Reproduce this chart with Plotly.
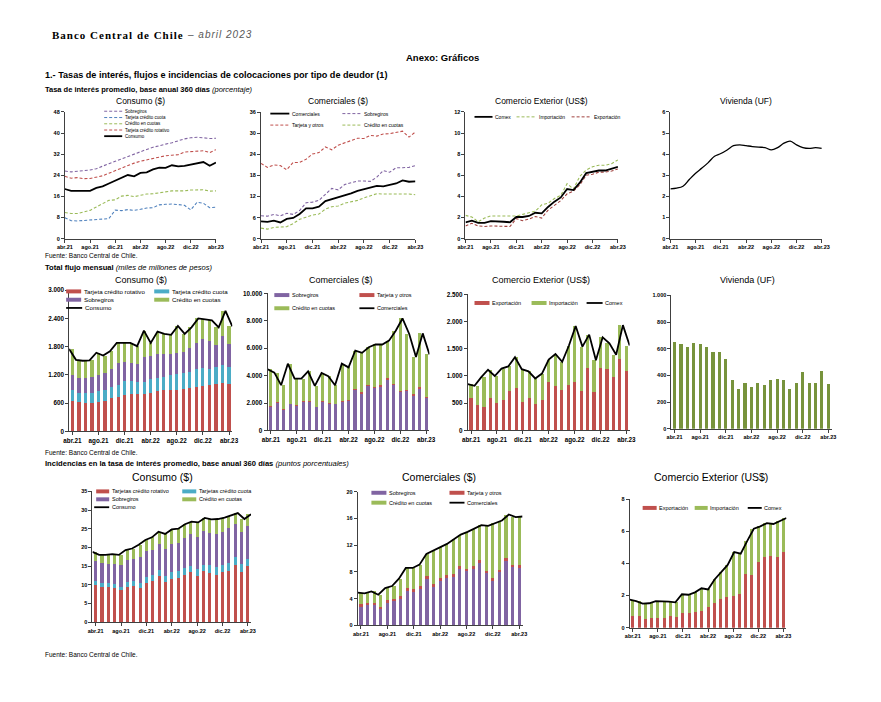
import plotly.graph_objects as go

W, H = 881, 702
# horizontal placement calibration (page pixel -> figure pixel)
XS, XO = 0.981, 8.9

meses = ["abr.21", "may.21", "jun.21", "jul.21", "ago.21", "sep.21", "oct.21", "nov.21", "dic.21",
         "ene.22", "feb.22", "mar.22", "abr.22", "may.22", "jun.22", "jul.22", "ago.22", "sep.22",
         "oct.22", "nov.22", "dic.22", "ene.23", "feb.23", "mar.23", "abr.23"]
etiquetas = meses[::4]

# ---------------- Fila 1: tasas de interés (porcentaje) ----------------
tasa_cons_sobregiros = [25.6, 25.3, 25.5, 25.7, 26.0, 26.5, 27.3, 28.4, 29.3, 30.2, 31.2, 32.2, 33.1, 33.8, 34.6, 35.3, 35.8, 36.3, 37.0, 37.8, 38.2, 38.4, 38.2, 37.9, 38.0]
tasa_cons_tc_cuota = [7.9, 6.8, 6.7, 6.9, 7.2, 7.4, 7.5, 7.6, 10.8, 10.6, 11.0, 10.7, 11.1, 11.6, 11.7, 12.8, 13.0, 13.1, 12.9, 12.6, 10.9, 13.8, 13.4, 11.7, 11.9]
tasa_cons_cuotas = [9.9, 9.5, 9.5, 10.1, 10.7, 12.0, 13.2, 14.5, 14.7, 16.1, 16.4, 15.9, 16.4, 16.9, 17.0, 17.4, 17.6, 18.1, 18.1, 18.1, 18.4, 18.5, 18.5, 18.0, 18.1]
tasa_cons_tc_rot = [23.6, 22.9, 23.1, 22.7, 22.8, 23.2, 23.8, 24.8, 25.8, 26.8, 27.8, 28.6, 29.3, 29.8, 30.5, 31.0, 31.4, 31.6, 31.8, 32.8, 33.0, 33.2, 33.3, 32.6, 33.7]
tasa_cons_total = [18.8, 18.1, 18.1, 18.2, 18.1, 19.2, 19.8, 20.9, 22.0, 22.9, 24.1, 23.6, 24.9, 25.1, 26.2, 26.9, 26.8, 27.8, 27.4, 27.6, 28.0, 28.5, 29.0, 27.6, 28.8]

tasa_com_total = [4.9, 4.8, 5.1, 4.6, 5.6, 5.9, 7.0, 8.6, 8.6, 9.1, 10.7, 11.2, 11.8, 12.2, 12.9, 13.6, 14.0, 14.5, 15.0, 14.9, 15.3, 15.7, 16.6, 16.2, 16.3]
tasa_com_sobregiros = [6.5, 6.4, 6.9, 6.5, 7.2, 6.9, 8.0, 10.2, 10.4, 10.9, 12.6, 14.3, 13.9, 15.4, 15.9, 16.4, 16.4, 16.3, 17.5, 19.4, 18.9, 20.2, 20.2, 20.3, 20.8]
tasa_com_tarjeta = [21.4, 20.3, 21.0, 20.8, 19.6, 21.7, 21.7, 22.6, 24.1, 24.5, 26.1, 25.3, 26.6, 27.3, 28.0, 28.6, 28.5, 29.4, 29.2, 29.8, 29.9, 30.2, 30.6, 28.9, 30.4]
tasa_com_cuotas = [3.0, 2.7, 3.2, 3.3, 3.4, 4.3, 5.5, 6.1, 6.7, 7.0, 8.4, 9.1, 9.3, 10.1, 10.4, 10.9, 11.6, 12.3, 12.8, 12.7, 12.7, 12.8, 12.8, 12.7, 12.5]

tasa_cx_comex = [1.55, 1.7, 1.5, 1.5, 1.65, 1.65, 1.6, 1.55, 2.05, 2.05, 2.15, 2.45, 2.4, 3.0, 3.5, 3.9, 4.7, 4.6, 5.3, 6.2, 6.35, 6.45, 6.45, 6.65, 6.8]
tasa_cx_import = [2.2, 2.05, 1.6, 1.95, 2.15, 2.15, 2.2, 2.15, 2.15, 2.3, 2.45, 2.6, 3.2, 3.35, 3.8, 4.1, 5.2, 4.7, 5.9, 6.5, 6.8, 6.95, 6.95, 7.1, 7.45]
tasa_cx_export = [1.2, 1.45, 1.2, 1.15, 1.2, 1.2, 1.2, 1.15, 1.9, 1.7, 1.85, 2.1, 1.95, 2.7, 3.15, 3.6, 4.25, 4.5, 5.1, 6.0, 6.1, 6.3, 6.3, 6.4, 6.6]

tasa_vivienda = [2.36, 2.39, 2.48, 2.8, 3.1, 3.34, 3.6, 3.9, 4.03, 4.2, 4.4, 4.44, 4.4, 4.36, 4.33, 4.31, 4.2, 4.31, 4.52, 4.62, 4.44, 4.31, 4.27, 4.31, 4.27]

# ---------------- Fila 2: flujo mensual (miles de millones) ----------------
flujo_cons_rot = [650, 615, 610, 610, 630, 650, 700, 720, 770, 790, 790, 800, 810, 860, 870, 880, 880, 900, 920, 950, 970, 990, 1010, 1030, 1010]
flujo_cons_cuota = [230, 205, 200, 210, 220, 230, 240, 270, 290, 290, 260, 240, 310, 280, 280, 320, 340, 330, 340, 380, 380, 340, 360, 390, 350]
flujo_cons_sobregiros = [320, 320, 320, 330, 350, 360, 390, 470, 420, 380, 390, 530, 480, 500, 490, 450, 440, 460, 510, 550, 610, 590, 460, 600, 500]
flujo_cons_cuotas = [550, 380, 370, 360, 470, 370, 370, 420, 400, 420, 370, 570, 280, 480, 430, 400, 580, 380, 440, 520, 420, 440, 380, 540, 370]
flujo_cons_total = [1750, 1520, 1500, 1510, 1670, 1610, 1700, 1880, 1880, 1880, 1810, 2140, 1880, 2120, 2070, 2050, 2240, 2070, 2210, 2400, 2380, 2360, 2210, 2560, 2230]

flujo_com_sobregiros = [1700, 2000, 1500, 1900, 1800, 2050, 2100, 1680, 2050, 1950, 1900, 2100, 2150, 2950, 2680, 3250, 3100, 3200, 3700, 3300, 2800, 2900, 2550, 3050, 2350]
flujo_com_tarjeta = [60, 50, 50, 50, 60, 60, 70, 50, 60, 60, 60, 80, 80, 100, 90, 100, 100, 100, 100, 90, 80, 80, 80, 100, 80]
flujo_com_cuotas = [2700, 2170, 1750, 2920, 1920, 1670, 2140, 1520, 2080, 1940, 1340, 2690, 2370, 2780, 2890, 2720, 3070, 2970, 2750, 3890, 5290, 4060, 2720, 3930, 3110]
flujo_com_total = [4460, 4220, 3300, 4870, 3780, 3780, 4310, 3250, 4190, 3950, 3300, 4870, 4600, 5830, 5660, 6070, 6270, 6270, 6550, 7280, 8170, 7040, 5350, 7080, 5540]

flujo_cx_export = [590, 460, 430, 590, 510, 560, 720, 780, 520, 590, 480, 550, 890, 810, 750, 830, 890, 720, 1140, 700, 1150, 1120, 990, 1320, 1100]
flujo_cx_import = [260, 360, 550, 525, 490, 575, 455, 565, 605, 495, 475, 495, 410, 595, 510, 730, 1030, 820, 620, 590, 560, 480, 400, 615, 460]
flujo_cx_comex = [850, 820, 980, 1115, 1000, 1135, 1175, 1345, 1125, 1085, 955, 1045, 1300, 1405, 1260, 1560, 1920, 1540, 1760, 1290, 1710, 1600, 1390, 1935, 1560]

flujo_vivienda = [650, 635, 615, 645, 635, 615, 575, 575, 520, 365, 298, 340, 312, 345, 328, 362, 375, 362, 298, 345, 422, 340, 340, 432, 335]

# ---------------- Fila 3: incidencias (puntos porcentuales) ----------------
inc_cons_rot = [9.8, 9.4, 9.3, 9.0, 8.5, 9.5, 9.7, 9.2, 10.5, 10.9, 12.4, 10.8, 11.6, 11.8, 12.7, 13.4, 12.4, 13.6, 13.1, 12.6, 13.3, 13.6, 15.2, 13.3, 15.0]
inc_cons_cuota = [1.2, 1.1, 1.2, 1.3, 0.9, 1.2, 1.3, 1.3, 1.7, 1.7, 1.5, 1.6, 1.8, 1.8, 1.7, 1.7, 1.8, 1.8, 2.3, 2.1, 1.9, 2.1, 2.1, 2.2, 1.8]
inc_cons_sobregiros = [5.3, 5.3, 5.0, 5.3, 5.8, 5.8, 5.9, 7.0, 6.8, 6.7, 6.9, 7.1, 7.6, 7.7, 8.2, 8.4, 8.5, 8.9, 8.4, 8.9, 8.8, 9.4, 8.9, 8.5, 8.8]
inc_cons_cuotas = [2.5, 2.2, 2.5, 2.6, 2.8, 2.8, 2.8, 3.2, 3.0, 3.4, 3.4, 4.1, 3.8, 3.7, 3.6, 3.4, 4.0, 3.6, 3.7, 4.0, 4.0, 3.4, 3.0, 3.6, 3.3]
inc_cons_total = [18.8, 18.0, 18.0, 18.2, 18.0, 19.3, 19.7, 20.7, 22.0, 22.7, 24.2, 23.6, 24.8, 25.0, 26.2, 26.9, 26.7, 27.9, 27.5, 27.6, 28.0, 28.5, 29.2, 27.6, 28.9]

inc_com_sobregiros = [2.8, 3.0, 3.0, 2.5, 3.4, 3.6, 4.0, 5.2, 5.0, 5.4, 6.9, 5.8, 6.7, 7.1, 7.3, 8.4, 8.1, 8.5, 9.3, 7.8, 6.7, 8.0, 9.6, 8.7, 8.6]
inc_com_tarjeta = [0.4, 0.35, 0.4, 0.3, 0.35, 0.35, 0.4, 0.45, 0.4, 0.45, 0.55, 0.4, 0.4, 0.45, 0.45, 0.45, 0.4, 0.4, 0.45, 0.4, 0.35, 0.35, 0.45, 0.4, 0.45]
inc_com_cuotas = [1.7, 1.45, 1.7, 1.8, 1.85, 1.95, 2.6, 2.95, 3.2, 3.25, 3.25, 5.0, 4.7, 4.65, 5.15, 4.75, 5.5, 5.6, 5.25, 6.7, 8.25, 7.35, 6.55, 7.1, 7.25]
inc_com_total = [4.9, 4.8, 5.1, 4.6, 5.6, 5.9, 7.0, 8.6, 8.6, 9.1, 10.7, 11.2, 11.8, 12.2, 12.9, 13.6, 14.0, 14.5, 15.0, 14.9, 15.3, 15.7, 16.6, 16.2, 16.3]

inc_cx_export = [0.75, 0.75, 0.55, 0.6, 0.6, 0.6, 0.75, 0.65, 0.9, 0.9, 0.95, 1.05, 1.3, 1.55, 1.8, 1.9, 1.95, 2.1, 3.35, 3.25, 4.1, 4.4, 4.45, 4.4, 4.7]
inc_cx_import = [1.0, 0.9, 0.95, 0.92, 1.05, 1.05, 0.87, 0.93, 1.18, 1.15, 1.25, 1.4, 1.08, 1.45, 1.65, 2.0, 2.75, 2.5, 2.05, 2.9, 2.2, 2.1, 2.0, 2.22, 2.12]
inc_cx_comex = [1.75, 1.65, 1.5, 1.52, 1.65, 1.65, 1.62, 1.58, 2.08, 2.05, 2.2, 2.45, 2.38, 3.0, 3.45, 3.9, 4.7, 4.6, 5.4, 6.15, 6.3, 6.5, 6.45, 6.62, 6.82]

# ---------------- estilos ----------------
RED = "#C0504D"
GREEN = "#9BBB59"
PURPLE = "#8064A2"
CYAN = "#4BACC6"
BLUE = "#4F81BD"
OLIVE = "#77933C"
DRED = "#A0403D"
AX = "#404040"
SANS = "Liberation Sans"
SERIF = "Liberation Serif"

fig = go.Figure()


def px(x):
    return (x - XO) / XS / W


def py(y):
    return 1 - y / H


def names(k):
    return ("x" if k == 1 else f"x{k}"), ("y" if k == 1 else f"y{k}")


def add_axes(k, xpx, ypx, yrange, dtick, xrange, fs, overlay=False):
    xn, yn = names(k)
    lx = "xaxis" if k == 1 else f"xaxis{k}"
    ly = "yaxis" if k == 1 else f"yaxis{k}"
    tf = dict(size=fs, family=SANS, color="#000", weight="bold")
    fig.update_layout(**{
        lx: dict(domain=[px(xpx[0]), px(xpx[1])], anchor=yn, type="category",
                 categoryorder="array", categoryarray=meses,
                 range=xrange, tickmode="array", tickvals=etiquetas, ticktext=etiquetas,
                 showline=True, linecolor=AX, linewidth=1, ticks="outside", ticklen=3,
                 tickcolor=AX, tickfont=tf, showgrid=False, zeroline=False, tickangle=0,
                 fixedrange=True),
        ly: dict(domain=[py(ypx[1]), py(ypx[0])], anchor=xn, range=yrange,
                 dtick=dtick, tick0=0, tickformat=",", showline=True, linecolor=AX,
                 linewidth=1, ticks="outside", ticklen=3, tickcolor=AX, tickfont=tf,
                 showgrid=False, zeroline=False, fixedrange=True),
    })
    if overlay:
        k2 = k + 20
        fig.update_layout(**{
            f"xaxis{k2}": dict(overlaying=xn, anchor=yn, type="category",
                               categoryorder="array", categoryarray=meses,
                               range=[0, 24], visible=False, fixedrange=True)
        })


def line(k, y, color, dash="solid", width=1.3, shape="linear", overlay=False):
    xn, yn = names(k)
    if overlay:
        xn = f"x{k + 20}"
    fig.add_trace(go.Scatter(x=meses, y=y, mode="lines", xaxis=xn, yaxis=yn,
                             line=dict(color=color, width=width, dash=dash, shape=shape),
                             showlegend=False, hoverinfo="skip"))


def bar(k, y, color):
    xn, yn = names(k)
    fig.add_trace(go.Bar(x=meses, y=y, xaxis=xn, yaxis=yn, marker=dict(color=color, line=dict(width=0)),
                         showlegend=False, hoverinfo="skip"))


def txt(x, y, s, size, anchor="left", color="#000", family=SANS):
    fig.add_annotation(xref="paper", yref="paper", x=px(x), y=py(y), text=s, showarrow=False,
                       xanchor=anchor, yanchor="middle", borderpad=0,
                       font=dict(size=size, color=color, family=family))


def leg_line(x0, x1, y, color, text, fs, dash="solid", width=1.5):
    fig.add_shape(type="line", xref="paper", yref="paper", x0=px(x0), x1=px(x1),
                  y0=py(y), y1=py(y), line=dict(color=color, width=width, dash=dash))
    txt(x1 + 1.5, y, text, fs)


def leg_box(x0, x1, y, color, text, fs, h=4):
    fig.add_shape(type="rect", xref="paper", yref="paper", x0=px(x0), x1=px(x1),
                  y0=py(y + h / 2), y1=py(y - h / 2),
                  line=dict(width=0), fillcolor=color)
    txt(x1 + 1.5, y, text, fs)


DASH = "3px,2px"

# ---------------- Fila 1 ----------------
add_axes(1, (65.7, 216.7), (109, 237), [0, 48], 8, [0, 24], 5.5)
line(1, tasa_cons_sobregiros, PURPLE, DASH, 1.1)
line(1, tasa_cons_tc_cuota, BLUE, DASH, 1.1)
line(1, tasa_cons_cuotas, GREEN, DASH, 1.1)
line(1, tasa_cons_tc_rot, RED, DASH, 1.1)
line(1, tasa_cons_total, "#000", "solid", 1.8)

add_axes(2, (261.7, 416), (109.3, 237), [0, 36], 6, [0, 24], 5.5)
line(2, tasa_com_sobregiros, PURPLE, DASH, 1.1)
line(2, tasa_com_tarjeta, RED, DASH, 1.1)
line(2, tasa_com_cuotas, GREEN, DASH, 1.1)
line(2, tasa_com_total, "#000", "solid", 1.8)

add_axes(3, (466, 618.3), (109, 237), [0, 12], 2, [0, 24], 5.5)
line(3, tasa_cx_import, GREEN, DASH, 1.1)
line(3, tasa_cx_export, DRED, DASH, 1.1)
line(3, tasa_cx_comex, "#000", "solid", 1.8)

add_axes(4, (670.7, 822), (109, 237), [0, 6], 1, [0, 24], 5.5)
line(4, tasa_vivienda, "#000", "solid", 1.3, shape="spline")

# ---------------- Fila 2 ----------------
add_axes(5, (70, 233), (289, 431.7), [0, 3000], 600, [-0.5, 24.5], 6.3, overlay=True)
bar(5, flujo_cons_rot, RED)
bar(5, flujo_cons_cuota, CYAN)
bar(5, flujo_cons_sobregiros, PURPLE)
bar(5, flujo_cons_cuotas, GREEN)
line(5, flujo_cons_total, "#000", "solid", 1.8, overlay=True)

add_axes(6, (268.3, 430), (292.3, 430.7), [0, 10000], 2000, [-0.5, 24.5], 6.3, overlay=True)
bar(6, flujo_com_sobregiros, PURPLE)
bar(6, flujo_com_tarjeta, RED)
bar(6, flujo_com_cuotas, GREEN)
line(6, flujo_com_total, "#000", "solid", 1.8, overlay=True)

add_axes(7, (468.3, 630), (293.3, 430.7), [0, 2500], 500, [-0.5, 24.5], 6.3, overlay=True)
bar(7, flujo_cx_export, RED)
bar(7, flujo_cx_import, GREEN)
line(7, flujo_cx_comex, "#000", "solid", 1.8, overlay=True)

add_axes(8, (671.7, 831.7), (294.3, 429), [0, 1000], 200, [-0.5, 24.5], 5.5)
bar(8, flujo_vivienda, OLIVE)

# ---------------- Fila 3 ----------------
add_axes(9, (93.3, 251.7), (492.3, 624.3), [0, 35], 5, [-0.5, 24.5], 5.5, overlay=True)
bar(9, inc_cons_rot, RED)
bar(9, inc_cons_cuota, CYAN)
bar(9, inc_cons_sobregiros, PURPLE)
bar(9, inc_cons_cuotas, GREEN)
line(9, inc_cons_total, "#000", "solid", 1.8, overlay=True)

add_axes(10, (358.3, 523), (492.7, 627.7), [0, 20], 4, [-0.5, 24.5], 5.5, overlay=True)
bar(10, inc_com_sobregiros, PURPLE)
bar(10, inc_com_tarjeta, RED)
bar(10, inc_com_cuotas, GREEN)
line(10, inc_com_total, "#000", "solid", 1.8, overlay=True)

add_axes(11, (630, 786.7), (500, 630), [0, 8], 2, [-0.5, 24.5], 5.5, overlay=True)
bar(11, inc_cx_export, RED)
bar(11, inc_cx_import, GREEN)
line(11, inc_cx_comex, "#000", "solid", 1.8, overlay=True)

# ---------------- Títulos de paneles ----------------
for cx, cy, s, fs in [
    (141.5, 97.5, "Consumo ($)", 8.5), (339, 97.5, "Comerciales ($)", 8.5),
    (542, 97.5, "Comercio Exterior (US$)", 8.5), (746, 97.5, "Vivienda (UF)", 8.5),
    (141.5, 279, "Consumo ($)", 9), (341.5, 279, "Comerciales ($)", 9),
    (541.5, 279, "Comercio Exterior (US$)", 9), (747.5, 279, "Vivienda (UF)", 9),
    (163.5, 477.5, "Consumo ($)", 10.5), (440, 477.5, "Comerciales ($)", 10.5),
    (711, 477.5, "Comercio Exterior (US$)", 10.5)]:
    txt(cx, cy, s, fs, anchor="center")

# ---------------- Leyendas ----------------
# Fila 1
leg_line(105, 123, 108.3, PURPLE, "Sobregiros", 4.5, DASH, 1)
leg_line(105, 123, 114.7, BLUE, "Tarjeta crédito cuota", 4.5, DASH, 1)
leg_line(105, 123, 121, GREEN, "Crédito en cuotas", 4.5, DASH, 1)
leg_line(105, 123, 127.3, RED, "Tarjeta crédito rotativo", 4.5, DASH, 1)
leg_line(105, 123, 133.5, "#000", "Consumo", 4.5, "solid", 1.8)

leg_line(271, 290, 110.7, "#000", "Comerciales", 5, "solid", 1.8)
leg_line(343, 362, 110.7, PURPLE, "Sobregiros", 5, DASH, 1)
leg_line(271, 290, 122.3, RED, "Tarjeta y otros", 5, DASH, 1)
leg_line(343, 362, 122.3, GREEN, "Crédito en cuotas", 5, DASH, 1)

leg_line(475, 493, 114, "#000", "Comex", 5, "solid", 1.8)
leg_line(517, 537, 114, GREEN, "Importación", 5, DASH, 1)
leg_line(572, 592, 114, DRED, "Exportación", 5, DASH, 1)

# Fila 2
leg_box(67, 82, 290.3, RED, "Tarjeta crédito rotativo", 6.2)
leg_box(155, 170, 290.3, CYAN, "Tarjeta crédito cuota", 6.2)
leg_box(67, 82, 298.7, PURPLE, "Sobregiros", 6.2)
leg_box(155, 170, 298.7, GREEN, "Crédito en cuotas", 6.2)
leg_line(67, 83, 307, "#000", "Consumo", 6.2, "solid", 1.8)

leg_box(275, 290, 294, PURPLE, "Sobregiros", 5.5)
leg_box(360, 375, 294, RED, "Tarjeta y otros", 5.5)
leg_box(275, 290, 307.3, GREEN, "Crédito en cuotas", 5.5)
leg_line(360, 375, 307.3, "#000", "Comerciales", 5.5, "solid", 1.8)

leg_box(475, 490, 302, RED, "Exportación", 5.5)
leg_box(532, 547, 302, GREEN, "Importación", 5.5)
leg_line(587, 603, 302, "#000", "Comex", 5.5, "solid", 1.8)

# Fila 3
leg_box(97, 110, 492.3, RED, "Tarjetas crédito rotativo", 5.5)
leg_box(183, 197, 492.3, CYAN, "Tarjetas crédito cuota", 5.5)
leg_box(97, 110, 500.3, PURPLE, "Sobregiros", 5.5)
leg_box(183, 197, 500.3, GREEN, "Crédito en cuotas", 5.5)
leg_line(95, 110, 508.3, "#000", "Consumo", 5.5, "solid", 1.8)

leg_box(372, 387, 493.7, PURPLE, "Sobregiros", 5.5)
leg_box(450, 465, 493.7, RED, "Tarjeta y otros", 5.5)
leg_box(372, 387, 503.7, GREEN, "Crédito en cuotas", 5.5)
leg_line(450, 465, 503.7, "#000", "Comerciales", 5.5, "solid", 1.8)

leg_box(643, 657, 509, RED, "Exportación", 5.5)
leg_box(695, 708, 509, GREEN, "Importación", 5.5)
leg_line(748, 762, 509, "#000", "Comex", 5.5, "solid", 1.8)

# ---------------- Textos de página ----------------
txt(52, 31, "<span style='letter-spacing:1px'><b>Banco Central de Chile</b></span>", 11, family=SERIF)
txt(187, 31, "<span style='letter-spacing:1px'><i>– abril 2023</i></span>", 10, color="#595959")
txt(443.5, 54, "<b>Anexo: Gráficos</b>", 9.5, anchor="center")
txt(45, 72, "<b>1.- Tasas de interés, flujos e incidencias de colocaciones por tipo de deudor (1)</b>", 9.1)
txt(45, 86, "<b>Tasa de interés promedio, base anual 360 días</b> <i>(porcentaje)</i>", 7.5)
txt(45, 254, "Fuente: Banco Central de Chile.", 6.5)
txt(45, 266, "<b>Total flujo mensual</b> <i>(miles de millones de pesos)</i>", 7.6)
txt(45, 453, "Fuente: Banco Central de Chile.", 6.5)
txt(45, 464.5, "<b>Incidencias en la tasa de interés promedio, base anual 360 días</b> <i>(puntos porcentuales)</i>", 7.6)
txt(45, 657, "Fuente: Banco Central de Chile.", 6.5)

fig.update_layout(width=W, height=H, autosize=False, margin=dict(l=0, r=0, t=0, b=0),
                  paper_bgcolor="white", plot_bgcolor="white", barmode="stack", bargap=0.52,
                  separators=",.", showlegend=False, font=dict(family=SANS))

fig.write_html("out.html", config={"displayModeBar": False})
